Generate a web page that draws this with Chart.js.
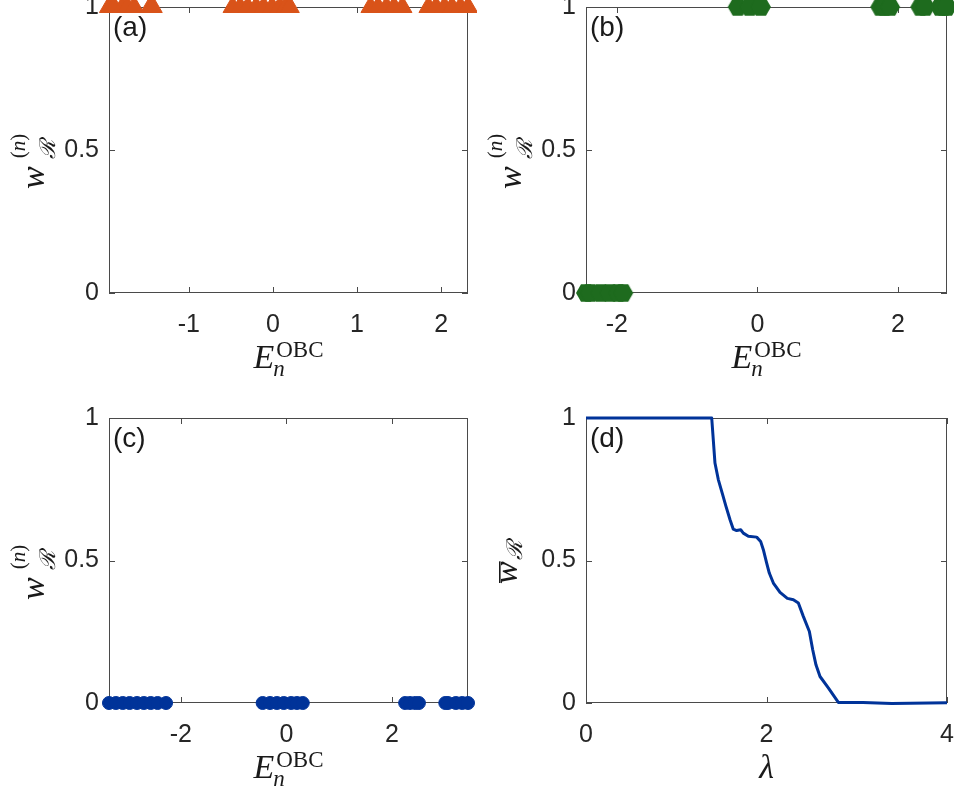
<!DOCTYPE html>
<html><head><meta charset="utf-8">
<script src="https://cdn.jsdelivr.net/npm/chart.js@4/dist/chart.umd.min.js"></script>
<style>
html,body{margin:0;padding:0;background:#fff;}
#wrap{position:relative;width:954px;height:792px;overflow:hidden;background:#fff;}
canvas{position:absolute;}
</style></head><body><div id="wrap">
<canvas id="ca"></canvas><canvas id="cb"></canvas><canvas id="cc"></canvas><canvas id="cd"></canvas>
</div>
<script>
// ---------- data ----------
const yTickValues = [0, 0.5, 1];
const yTickLabels = ['0', '0.5', '1'];
const xTicksA = [-1, 0, 1, 2];
const xTicksB = [-2, 0, 2];
const xTicksC = [-2, 0, 2];
const xTicksD = [0, 2, 4];

const energiesA = [-1.95, -1.89, -1.79, -1.73, -1.65, -1.46, -1.43,
  -0.48, -0.39, -0.30, -0.20, -0.11, -0.01, 0.08, 0.15, 0.20,
  1.16, 1.25, 1.35, 1.44, 1.54, 1.85, 1.94, 2.04, 2.13, 2.23, 2.32];
const weightsA = [1, 1, 1, 1, 1, 1, 1,
  1, 1, 1, 1, 1, 1, 1, 1, 1,
  1, 1, 1, 1, 1, 1, 1, 1, 1, 1, 1];

const energiesB = [-2.44, -2.38, -2.23, -2.10, -1.98, -1.91,
  -0.28, -0.11, 0.05, 1.75, 1.81, 1.89, 2.32, 2.39, 2.60, 2.65, 2.70];
const weightsB = [0, 0, 0, 0, 0, 0,
  1, 1, 1, 1, 1, 1, 1, 1, 1, 1, 1];

const energiesC = [-3.36, -3.23, -3.10, -2.97, -2.83, -2.70, -2.57, -2.44, -2.28,
  -0.45, -0.31, -0.18, -0.05, 0.09, 0.20, 0.31,
  2.25, 2.34, 2.44, 2.51, 3.01, 3.06, 3.21, 3.33, 3.44];
const weightsC = [0, 0, 0, 0, 0, 0, 0, 0, 0,
  0, 0, 0, 0, 0, 0, 0,
  0, 0, 0, 0, 0, 0, 0, 0, 0];

const lambdaD = [0, 1.393, 1.429, 1.466, 1.514, 1.551, 1.596, 1.632, 1.669, 1.714, 1.743, 1.799,
  1.891, 1.935, 1.965, 2.002, 2.031, 2.076, 2.150, 2.231, 2.298, 2.353, 2.408, 2.475,
  2.512, 2.548, 2.593, 2.685, 2.796, 3.07, 3.387, 4.0];
const wbarD = [1, 1, 0.842, 0.784, 0.731, 0.690, 0.643, 0.610, 0.605, 0.608, 0.596, 0.585,
  0.582, 0.567, 0.538, 0.491, 0.456, 0.421, 0.388, 0.367, 0.362, 0.351, 0.304, 0.251,
  0.187, 0.134, 0.093, 0.053, 0.002, 0.002, -0.002, 0.001];

// ---------- styling ----------
const TXT = '#262626';
const AX = '#4a4a4a';
const SANS = '"Liberation Sans", Arial, Helvetica, sans-serif';
const SERIF = '"Liberation Serif", "Times New Roman", serif';

function hexImage(r, color) {
  const s = Math.ceil(2 * r + 2);
  const c = document.createElement('canvas');
  c.width = s; c.height = s;
  const g = c.getContext('2d');
  g.translate(s / 2, s / 2);
  g.beginPath();
  for (let k = 0; k < 6; k++) { const a = k * Math.PI / 3; g.lineTo(r * Math.cos(a), r * Math.sin(a)); }
  g.closePath(); g.fillStyle = color; g.fill();
  return c;
}

function drawXTitle(ctx, ca, baseY) {
  const cx = (ca.left + ca.right) / 2;
  ctx.fillStyle = '#1a1a1a';
  ctx.textBaseline = 'alphabetic'; ctx.textAlign = 'left';
  ctx.font = 'italic 34px ' + SERIF; const wE = ctx.measureText('E').width;
  ctx.font = '23px ' + SERIF; const wO = ctx.measureText('OBC').width;
  const total = wE + 2 + wO;
  const x0 = cx - total / 2;
  ctx.font = 'italic 34px ' + SERIF; ctx.fillText('E', x0, baseY);
  ctx.font = '23px ' + SERIF; ctx.fillText('OBC', x0 + wE + 2, baseY - 11);
  ctx.font = 'italic 23px ' + SERIF; ctx.fillText('n', x0 + wE - 1, baseY + 8);
}

function drawYTitleN(ctx, bx, by) {
  ctx.save();
  ctx.translate(bx, by); ctx.rotate(-Math.PI / 2);
  ctx.fillStyle = '#1a1a1a'; ctx.textBaseline = 'alphabetic'; ctx.textAlign = 'left';
  ctx.font = 'italic 34px ' + SERIF; const ww = ctx.measureText('w').width;
  ctx.fillText('w', 0, 0);
  const sx = ww + 8;
  ctx.font = 'italic 22px "DejaVu Serif", serif'; ctx.fillText('ℛ', sx - 1, 11);
  ctx.font = '21px ' + SERIF; ctx.fillText('(', sx, -19);
  const wp = ctx.measureText('(').width;
  ctx.font = 'italic 21px ' + SERIF; ctx.fillText('n', sx + wp, -19);
  const wn = ctx.measureText('n').width;
  ctx.font = '21px ' + SERIF; ctx.fillText(')', sx + wp + wn, -19);
  ctx.restore();
}

function drawYTitleBar(ctx, bx, by) {
  ctx.save();
  ctx.translate(bx, by); ctx.rotate(-Math.PI / 2);
  ctx.fillStyle = '#1a1a1a'; ctx.textBaseline = 'alphabetic'; ctx.textAlign = 'left';
  ctx.font = 'italic 34px ' + SERIF; const ww = ctx.measureText('w').width;
  ctx.fillText('w', 0, 0);
  ctx.fillRect(1, -18, ww - 1, 1.6);
  ctx.font = 'italic 22px "DejaVu Serif", serif'; ctx.fillText('ℛ', ww + 1, 5);
  ctx.restore();
}

const frameTicks = {
  id: 'frameTicks',
  beforeDatasetsDraw(chart) {
    const { ctx, chartArea: a, scales } = chart;
    ctx.save();
    ctx.strokeStyle = AX; ctx.lineWidth = 1;
    ctx.strokeRect(a.left + 0.5, a.top + 0.5, a.right - a.left - 1, a.bottom - a.top - 1);
    const TL = 6;
    ctx.beginPath();
    scales.x.ticks.forEach(t => {
      const px = Math.round(scales.x.getPixelForValue(t.value)) + 0.5;
      ctx.moveTo(px, a.bottom); ctx.lineTo(px, a.bottom - TL);
      ctx.moveTo(px, a.top); ctx.lineTo(px, a.top + TL);
    });
    scales.y.ticks.forEach(t => {
      const py = Math.round(scales.y.getPixelForValue(t.value)) + 0.5;
      ctx.moveTo(a.left, py); ctx.lineTo(a.left + TL, py);
      ctx.moveTo(a.right, py); ctx.lineTo(a.right - TL, py);
    });
    ctx.stroke();
    ctx.restore();
  }
};

const labelsPlugin = {
  id: 'labelsPlugin',
  afterDraw(chart, args, opts) {
    const { ctx, chartArea: a } = chart;
    ctx.save();
    ctx.fillStyle = '#1a1a1a';
    ctx.font = '28px ' + SANS; ctx.textAlign = 'left'; ctx.textBaseline = 'alphabetic';
    ctx.fillText(opts.tag, a.left + 4, a.top + 29);
    drawXTitle(ctx, a, a.bottom + 75);
    drawYTitleN(ctx, a.left - 65, a.top + 182);
    ctx.restore();
  }
};

const labelsPluginD = {
  id: 'labelsPluginD',
  afterDraw(chart) {
    const { ctx, chartArea: a } = chart;
    ctx.save();
    ctx.fillStyle = '#1a1a1a';
    ctx.font = '28px ' + SANS; ctx.textAlign = 'left'; ctx.textBaseline = 'alphabetic';
    ctx.fillText('(d)', a.left + 4, a.top + 29);
    ctx.font = 'italic 34px ' + SERIF; ctx.textAlign = 'center';
    ctx.fillText('λ', (a.left + a.right) / 2, a.bottom + 75);
    drawYTitleBar(ctx, a.left - 69, a.top + 166);
    ctx.restore();
  }
};

// ---------- panels (geometry) ----------
const panels = [
  { id: 'ca', cx: 0, cy: 0, cw: 477, ch: 390, L: 109, T: 7, R: 468, B: 293 },
  { id: 'cb', cx: 477, cy: 0, cw: 477, ch: 390, L: 586, T: 7, R: 947, B: 293 },
  { id: 'cc', cx: 0, cy: 390, cw: 477, ch: 402, L: 109, T: 418, R: 468, B: 703 },
  { id: 'cd', cx: 477, cy: 390, cw: 477, ch: 402, L: 586, T: 418, R: 947, B: 703 }
];

function zeroPad(s) { s.paddingTop = 0; s.paddingBottom = 0; s.paddingLeft = 0; s.paddingRight = 0; }

function makeChart(p, datasets, xMin, xMax, xTicks, plugins, pluginOpts) {
  const cv = document.getElementById(p.id);
  cv.width = p.cw; cv.height = p.ch;
  cv.style.left = p.cx + 'px'; cv.style.top = p.cy + 'px';
  cv.style.width = p.cw + 'px'; cv.style.height = p.ch + 'px';
  const yW = p.L - p.cx, padTop = p.T - p.cy, padRight = p.cx + p.cw - p.R, xH = p.cy + p.ch - p.B;
  const tickFont = { family: SANS, size: 25 };
  return new Chart(cv, {
    type: 'scatter',
    data: { datasets },
    options: {
      responsive: false, maintainAspectRatio: false, animation: false,
      devicePixelRatio: 1,
      layout: { autoPadding: false, padding: { top: padTop, right: padRight, left: 0, bottom: 0 } },
      plugins: { legend: { display: false }, tooltip: { enabled: false }, labelsPlugin: pluginOpts || {} },
      scales: {
        x: {
          type: 'linear', min: xMin, max: xMax,
          grid: { display: false, drawTicks: false }, border: { display: false },
          afterBuildTicks: s => { s.ticks = xTicks.map(v => ({ value: v })); },
          afterFit: s => { s.height = xH; zeroPad(s); },
          ticks: { font: tickFont, color: TXT, padding: 17, maxRotation: 0, autoSkip: false,
            callback: (v) => String(v) }
        },
        y: {
          type: 'linear', min: 0, max: 1,
          grid: { display: false, drawTicks: false }, border: { display: false },
          afterBuildTicks: s => { s.ticks = yTickValues.map(v => ({ value: v })); },
          afterFit: s => { s.width = yW; zeroPad(s); },
          ticks: { font: tickFont, color: TXT, padding: 10, autoSkip: false,
            callback: (v, i) => yTickLabels[i] }
        }
      }
    },
    plugins
  });
}

function pts(xs, ys) { return xs.map((x, i) => ({ x, y: ys[i] })); }

const ORANGE = '#D95319', GREEN = '#1E6B1E', BLUE = '#003399';

makeChart(panels[0], [{
  data: pts(energiesA, weightsA), pointStyle: 'triangle', pointRadius: 11,
  backgroundColor: ORANGE, borderColor: ORANGE, borderWidth: 1, clip: false
}], Math.min(...energiesA), Math.max(...energiesA), xTicksA, [frameTicks, labelsPlugin], { tag: '(a)' });

makeChart(panels[1], [{
  data: pts(energiesB, weightsB), pointStyle: hexImage(10, GREEN), pointRadius: 10,
  backgroundColor: GREEN, borderColor: GREEN, clip: false
}], Math.min(...energiesB), Math.max(...energiesB), xTicksB, [frameTicks, labelsPlugin], { tag: '(b)' });

makeChart(panels[2], [{
  data: pts(energiesC, weightsC), pointStyle: 'circle', pointRadius: 6.5,
  backgroundColor: BLUE, borderColor: BLUE, borderWidth: 1, clip: false
}], Math.min(...energiesC), Math.max(...energiesC), xTicksC, [frameTicks, labelsPlugin], { tag: '(c)' });

makeChart(panels[3], [{
  data: pts(lambdaD, wbarD), showLine: true, pointRadius: 0, borderColor: BLUE,
  borderWidth: 3, tension: 0, borderJoinStyle: 'round', clip: false
}], 0, 4, xTicksD, [frameTicks, labelsPluginD]);
</script>
</body></html>
